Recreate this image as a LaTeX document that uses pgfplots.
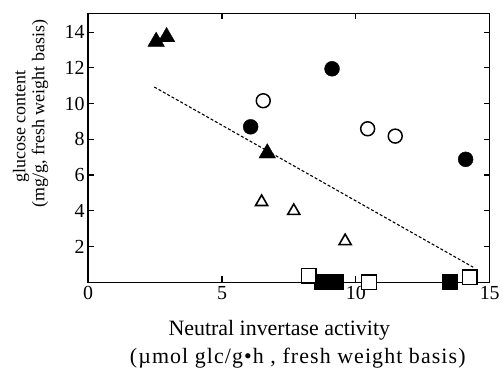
\documentclass[border=0pt]{standalone}
\usepackage{pgfplots}
\pgfplotsset{compat=1.18}
\usepackage{fontspec}
\setmainfont{Liberation Serif}
\newfontfamily\widefont[LetterSpace=5]{Liberation Serif}
\begin{document}
\begin{tikzpicture}
\path (0pt,0pt) (503pt,370pt);
\begin{axis}[
  at={(88.5pt,86.7pt)}, anchor=south west,
  scale only axis, width=403.2pt, height=270pt,
  xmin=0, xmax=15, ymin=0, ymax=15.06,
  xtick={0,5,10,15}, ytick={2,4,6,8,10,12,14},
  minor tick num=0,
  tick align=inside, major tick length=6pt,
  axis line style={line width=1.3pt},
  every tick/.style={line width=1.2pt, black},
  tick label style={font=\fontsize{20}{22}\selectfont},
  /pgf/number format/assume math mode=true,
  clip=false,
  xticklabel style={yshift=-1pt},
]
\addplot[black, line width=1.1pt, dash pattern=on 3pt off 2pt] coordinates {(2.47,10.93) (14.38,0.84)};
% filled triangles
\addplot[only marks, mark=triangle*, mark size=9.6pt, mark options={fill=black, draw=black}] coordinates {(2.54,13.47) (2.93,13.73) (6.69,7.22)};
% open triangles
\addplot[only marks, mark=triangle*, mark size=7pt, mark options={fill=white, draw=black, line width=1.6pt}] coordinates {(6.48,4.49) (7.68,3.99) (9.6,2.30)};
% filled circles
\addplot[only marks, mark=*, mark size=7.5pt, mark options={fill=black, draw=black}] coordinates {(6.07,8.70) (9.11,11.95) (14.1,6.88)};
% open circles
\addplot[only marks, mark=*, mark size=7pt, mark options={fill=white, draw=black, line width=1.5pt}] coordinates {(6.54,10.16) (10.44,8.59) (11.47,8.18)};
% filled squares
\addplot[only marks, mark=square*, mark size=7.5pt, mark options={fill=black, draw=black, rounded corners=2pt}] coordinates {(8.74,0) (9.26,0) (13.51,0)};
% open squares
\addplot[only marks, mark=square*, mark size=7.3pt, mark options={fill=white, draw=black, line width=1.5pt}] coordinates {(8.24,0.37) (10.49,0) (14.26,0.28)};
\node[rotate=90, inner sep=0pt, font=\fontsize{18}{20}\selectfont] at (axis description cs:-0.167,0.579) {glucose content};
\node[rotate=90, inner sep=0pt, font=\fontsize{18}{20}\selectfont] at (axis description cs:-0.120,0.627) {(mg/g, fresh weight basis)};
\node[inner sep=0pt, font=\fontsize{22}{24}\selectfont] at (axis description cs:0.476,-0.177) {Neutral invertase activity};
\node[inner sep=0pt, font=\fontsize{22}{24}\selectfont\widefont] at (axis description cs:0.522,-0.281) {(µmol glc/g•h , fresh weight basis)};
\end{axis}
\end{tikzpicture}
\end{document}
